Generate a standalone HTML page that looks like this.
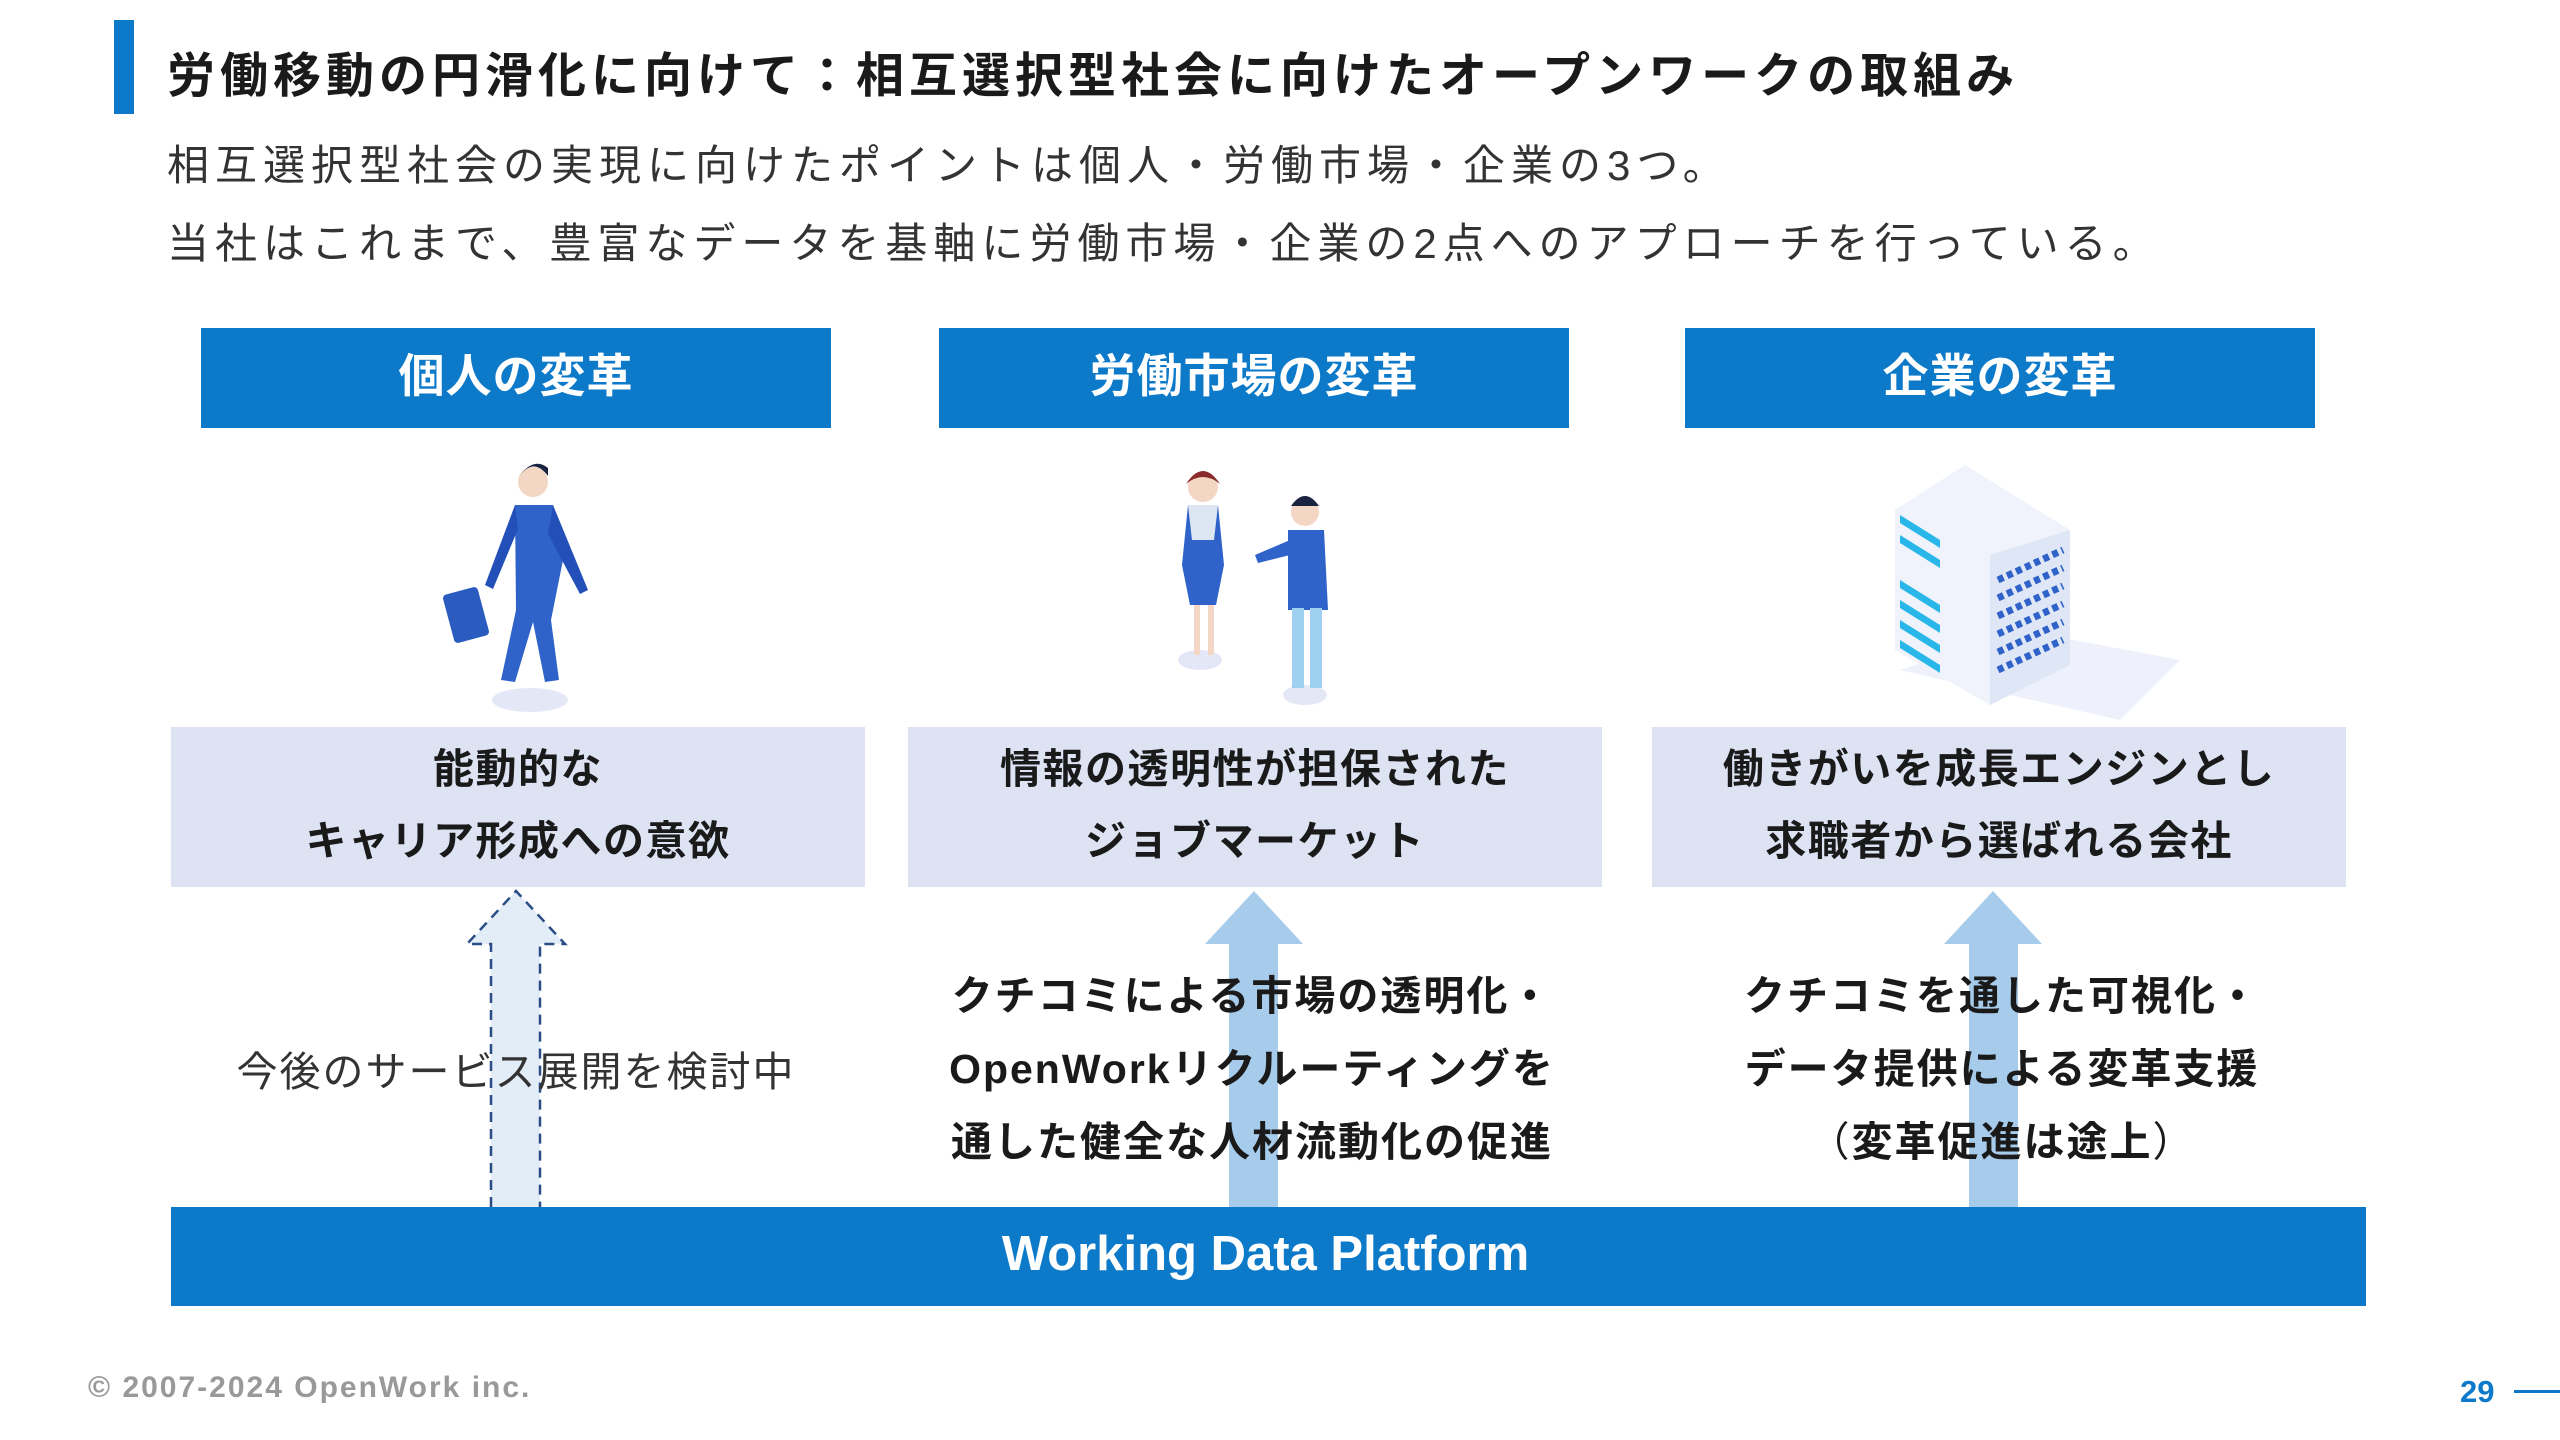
<!DOCTYPE html>
<html><head><meta charset="utf-8"><style>
body{margin:0;width:2560px;height:1440px;background:#fff;position:relative;overflow:hidden;font-family:"Liberation Sans","Noto Sans CJK JP",sans-serif;color:#222}
.a{position:absolute}
.hb{position:absolute;top:328px;height:100px;width:630px;background:#0d79c9;color:#fff;font-weight:bold;font-size:46px;display:flex;align-items:center;justify-content:center;padding-bottom:10px;box-sizing:border-box;letter-spacing:1px}
.lb{position:absolute;top:727px;height:160px;width:694px;background:#dde3f3;font-weight:bold;font-size:41px;text-align:center;line-height:72px;padding-top:6px;box-sizing:border-box;color:#1a1a1a;letter-spacing:1.5px}
.mt{position:absolute;font-weight:bold;font-size:41px;line-height:73px;text-align:center;width:720px;color:#1a1a1a;letter-spacing:2px}
</style></head><body>
<div class="a" style="left:114px;top:20px;width:20px;height:94px;background:#0d79c9"></div>
<div class="a" style="left:167px;top:36px;font-size:48px;letter-spacing:5px;font-weight:bold;color:#1a1a1a;white-space:nowrap">労働移動の円滑化に向けて：相互選択型社会に向けたオープンワークの取組み</div>
<div class="a" style="left:167px;top:127px;font-size:42px;letter-spacing:6px;line-height:78px;color:#333;white-space:nowrap">相互選択型社会の実現に向けたポイントは個人・労働市場・企業の3つ。<br>当社はこれまで、豊富なデータを基軸に労働市場・企業の2点へのアプローチを行っている。</div>
<div class="hb" style="left:201px">個人の変革</div>
<div class="hb" style="left:939px">労働市場の変革</div>
<div class="hb" style="left:1685px">企業の変革</div>
<svg class="a" style="left:0;top:0" width="2560" height="1440">
 <ellipse cx="530" cy="700" rx="38" ry="12" fill="#e4e8f6"/>
 <circle cx="533" cy="482" r="15" fill="#f3d6c4"/><path d="M518 478 q15 -22 30 -2 v-8 q-15 -12 -30 10z" fill="#1a2340"/>
 <path d="M515 505 l38 0 l10 55 l-12 60 l8 60 l-14 2 l-12 -60 l-18 60 l-14 -2 l15 -70 z" fill="#2f63c9"/>
 <path d="M515 505 l-30 80 l8 4 l25 -60 z M553 505 l35 85 l-8 4 l-32 -60z" fill="#2350b8"/>
 <rect x="448" y="590" width="36" height="50" rx="4" fill="#2a5cc0" transform="rotate(-15 466 615)"/>
 <ellipse cx="1200" cy="660" rx="22" ry="10" fill="#e4e8f6"/><ellipse cx="1305" cy="695" rx="22" ry="10" fill="#e4e8f6"/>
 <circle cx="1203" cy="487" r="15" fill="#f3d6c4"/><path d="M1186 484 q17 -26 34 0 q-17 -14 -34 0z" fill="#8a2a2a"/>
 <path d="M1188 505 h30 l6 60 l-8 40 h-26 l-8 -40z" fill="#2f63c9"/><path d="M1188 505 h30 l-4 35 h-22z" fill="#dce7f3"/>
 <rect x="1194" y="605" width="6" height="50" fill="#f3d6c4"/><rect x="1208" y="605" width="6" height="50" fill="#f3d6c4"/>
 <circle cx="1305" cy="512" r="14" fill="#f3d6c4"/><path d="M1291 506 q14 -20 28 0z" fill="#1a2340"/>
 <path d="M1288 530 h36 l4 80 h-40z" fill="#2f63c9"/><path d="M1290 540 l-35 15 l3 8 l40 -10z" fill="#2f63c9"/>
 <rect x="1292" y="608" width="12" height="80" fill="#9fd0f2"/><rect x="1310" y="608" width="12" height="80" fill="#9fd0f2"/>
 <path d="M1900 670 l120 -40 l160 30 l-60 60z" fill="#eef0fb"/>
 <path d="M1895 510 l70 -45 l105 65 l0 135 l-80 40 l-95 -55z" fill="#f0f3fb"/>
 <path d="M1990 555 l80 -25 l0 135 l-80 40z" fill="#dfe6f6"/>
 <g fill="#29b6e8"><path d="M1900 515 l40 25 v8 l-40 -25z"/><path d="M1900 535 l40 25 v8 l-40 -25z"/><path d="M1900 580 l40 25 v8 l-40 -25z"/><path d="M1900 600 l40 25 v8 l-40 -25z"/><path d="M1900 620 l40 25 v8 l-40 -25z"/><path d="M1900 640 l40 25 v8 l-40 -25z"/></g>
 <g stroke="#2f63c9" stroke-width="7" stroke-dasharray="6 4"><path d="M1998 580 l65 -30"/><path d="M1998 598 l65 -30"/><path d="M1998 616 l65 -30"/><path d="M1998 634 l65 -30"/><path d="M1998 652 l65 -30"/><path d="M1998 670 l65 -30"/></g>
 <path d="M491 1207 V944 H467 L516 891 L565 944 H540 V1207" fill="#e3edf8" stroke="#2a4d86" stroke-width="2.5" stroke-dasharray="10 7"/>
 <path d="M1229 1207 V944 H1205 L1254 891 L1303 944 H1278 V1207z" fill="#a7cbea"/>
 <path d="M1969 1207 V944 H1944 L1993 891 L2042 944 H2018 V1207z" fill="#a7cbea"/>
</svg>
<div class="lb" style="left:171px">能動的な<br>キャリア形成への意欲</div>
<div class="lb" style="left:908px">情報の透明性が担保された<br>ジョブマーケット</div>
<div class="lb" style="left:1652px">働きがいを成長エンジンとし<br>求職者から選ばれる会社</div>
<div class="a" style="left:156px;top:1038px;width:720px;text-align:center;font-size:41px;letter-spacing:2px;color:#333">今後のサービス展開を検討中</div>
<div class="mt" style="left:892px;top:960px">クチコミによる市場の透明化・<br>OpenWorkリクルーティングを<br>通した健全な人材流動化の促進</div>
<div class="mt" style="left:1642px;top:960px">クチコミを通した可視化・<br>データ提供による変革支援<br><span style="font-weight:normal">（</span>変革促進は途上<span style="font-weight:normal">）</span></div>
<div class="a" style="left:171px;top:1207px;width:2195px;height:99px;background:#0d79c9;color:#fff;font-size:49px;font-weight:bold;display:flex;align-items:center;justify-content:center;padding-right:6px;padding-bottom:6px;box-sizing:border-box">Working Data Platform</div>
<div class="a" style="left:88px;top:1371px;font-size:30px;letter-spacing:2px;font-weight:bold;color:#999">© 2007-2024 OpenWork inc.</div>
<div class="a" style="left:2460px;top:1374px;font-size:31px;font-weight:bold;color:#0d79c9">29</div>
<div class="a" style="left:2514px;top:1390px;width:46px;height:3px;background:#0d79c9"></div>
</body></html>
